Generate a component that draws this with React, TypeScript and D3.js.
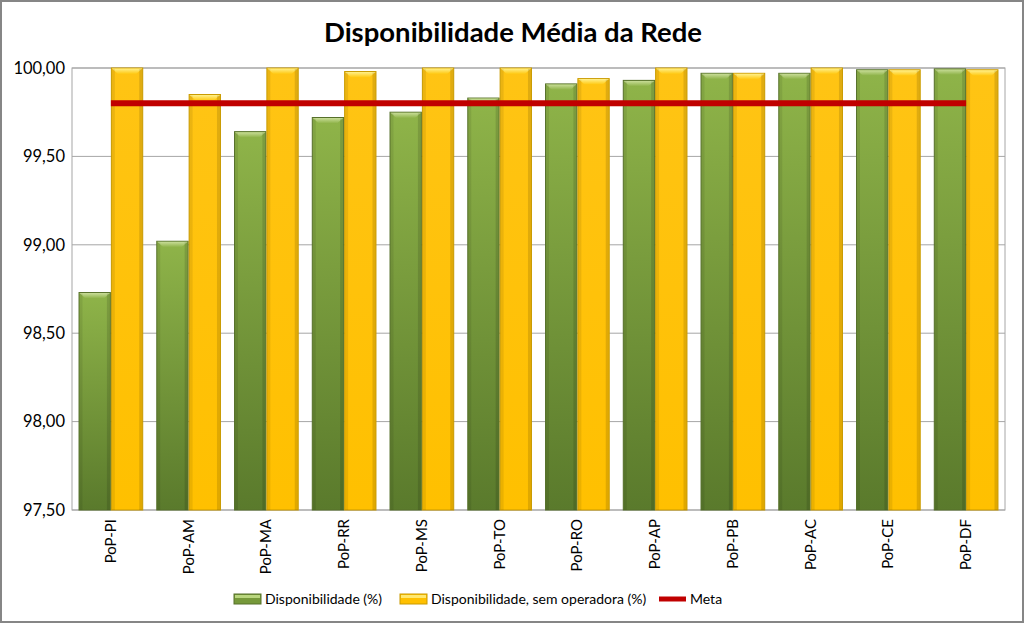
import * as d3 from "d3";
import { useEffect, useRef } from "react";

// categories and values
const categories = ["PoP-PI", "PoP-AM", "PoP-MA", "PoP-RR", "PoP-MS", "PoP-TO", "PoP-RO", "PoP-AP", "PoP-PB", "PoP-AC", "PoP-CE", "PoP-DF"];
const disponibilidade = [98.73, 99.02, 99.64, 99.72, 99.75, 99.83, 99.91, 99.93, 99.97, 99.97, 99.99, 99.995];
const semOperadora = [100.0, 99.85, 100.0, 99.98, 100.0, 100.0, 99.94, 100.0, 99.97, 100.0, 99.99, 99.99];
const meta = [99.8, 99.8, 99.8, 99.8, 99.8, 99.8, 99.8, 99.8, 99.8, 99.8, 99.8, 99.8];
const yTicks = [97.5, 98.0, 98.5, 99.0, 99.5, 100.0];
const seriesNames = ["Disponibilidade (%)", "Disponibilidade, sem operadora (%)", "Meta"];

const FONT = "Lato, 'Open Sans', sans-serif";

const App = () => {
  const ref = useRef<SVGSVGElement>(null);

  useEffect(() => {
    const W = 1024, H = 623;
    const margin = { top: 68, right: 19, bottom: 113, left: 72 };
    const width = W - margin.left - margin.right;
    const height = H - margin.top - margin.bottom;

    const svg = d3.select(ref.current);
    svg.selectAll("*").remove();

    const defs = svg.append("defs");
    const grad = (id: string, stops: [number, string][]) => {
      const g = defs.append("linearGradient").attr("id", id)
        .attr("x1", 0).attr("y1", 0).attr("x2", 0).attr("y2", 1);
      stops.forEach(([o, c]) => g.append("stop").attr("offset", o).attr("stop-color", c));
    };
    grad("greenBody", [[0, "#8fb449"], [1, "#5a7a2c"]]);
    grad("yellowBody", [[0, "#ffc414"], [1, "#ffc000"]]);
    grad("greenCap", [[0, "#c9dd98"], [1, "#8db247"]]);
    grad("yellowCap", [[0, "#fff08a"], [1, "#ffc810"]]);

    // background + outer border
    svg.append("rect").attr("x", 1).attr("y", 1).attr("width", W - 2).attr("height", H - 2)
      .attr("fill", "#fff").attr("stroke", "#868686").attr("stroke-width", 2);

    svg.append("text")
      .attr("x", 513).attr("y", 42)
      .attr("text-anchor", "middle")
      .attr("font-family", FONT).attr("font-weight", "bold").attr("font-size", 27.5)
      .attr("fill", "#000")
      .text("Disponibilidade Média da Rede");

    const g = svg.append("g").attr("transform", `translate(${margin.left},${margin.top})`);

    const x = d3.scaleBand().domain(categories).range([0, width]).paddingInner(0.168).paddingOuter(0.084);
    const x1 = d3.scaleBand().domain(["a", "b"]).range([0, x.bandwidth()]);
    const y = d3.scaleLinear().domain([97.5, 100]).range([height, 0]);

    // gridlines
    g.append("g").selectAll("line").data(yTicks).join("line")
      .attr("x1", 0).attr("x2", width)
      .attr("y1", (d) => y(d)).attr("y2", (d) => y(d))
      .attr("stroke", "#a6a6a6").attr("stroke-width", 1);
    g.append("rect").attr("x", 0).attr("y", 0).attr("width", width).attr("height", height)
      .attr("fill", "none").attr("stroke", "#a6a6a6");

    // y axis labels
    g.append("g").selectAll("text").data(yTicks).join("text")
      .attr("x", -7).attr("y", (d) => y(d)).attr("dy", "0.35em")
      .attr("text-anchor", "end")
      .attr("font-family", FONT).attr("font-size", 16.5).attr("fill", "#000")
      .text((d) => d3.format(".2f")(d).replace(".", ","));

    // x axis labels
    g.append("g").selectAll("text").data(categories).join("text")
      .attr("transform", (d) => `translate(${x(d)! + x.bandwidth() / 2 + 5},${height + 9}) rotate(-90)`)
      .attr("text-anchor", "end")
      .attr("font-family", FONT).attr("font-size", 15).attr("fill", "#000")
      .text((d) => d);

    const drawBars = (vals: number[], key: string, body: string, cap: string, edge: string) => {
      const bars = g.append("g").selectAll("g").data(vals).join("g")
        .attr("transform", (_d, i) => `translate(${x(categories[i])! + x1(key)!},0)`);
      const bw = x1.bandwidth();
      bars.append("rect")
        .attr("x", 0.5).attr("y", (d) => y(d))
        .attr("width", bw - 1).attr("height", (d) => height - y(d))
        .attr("fill", `url(#${body})`).attr("stroke", edge).attr("stroke-width", 1);
      // bevel cap
      bars.append("path")
        .attr("d", (d) => {
          const t = y(d), c = 6;
          return `M1,${t + 0.5}L${bw - 1},${t + 0.5}L${bw - 1 - c},${t + c}L${1 + c},${t + c}Z`;
        })
        .attr("fill", `url(#${cap})`);
      // side shading
      bars.append("rect")
        .attr("x", 1).attr("y", (d) => y(d) + 1).attr("width", 3).attr("height", (d) => height - y(d) - 1)
        .attr("fill", "#000").attr("opacity", 0.08);
      bars.append("rect")
        .attr("x", bw - 4).attr("y", (d) => y(d) + 1).attr("width", 3).attr("height", (d) => height - y(d) - 1)
        .attr("fill", "#000").attr("opacity", 0.12);
    };
    drawBars(disponibilidade, "a", "greenBody", "greenCap", "#56702a");
    drawBars(semOperadora, "b", "yellowBody", "yellowCap", "#c99a00");

    // meta line
    const line = d3.line<number>()
      .x((_d, i) => x(categories[i])! + x.bandwidth() / 2)
      .y((d) => y(d));
    g.append("path").datum(meta)
      .attr("d", line)
      .attr("fill", "none").attr("stroke", "#c00000").attr("stroke-width", 6);

    // legend
    const leg = svg.append("g").attr("transform", "translate(0,599)");
    const items = [
      { x: 234, name: seriesNames[0], kind: "green" },
      { x: 400, name: seriesNames[1], kind: "yellow" },
      { x: 659, name: seriesNames[2], kind: "line" },
    ];
    items.forEach((it) => {
      if (it.kind === "line") {
        leg.append("line").attr("x1", it.x).attr("x2", it.x + 27).attr("y1", 0).attr("y2", 0)
          .attr("stroke", "#c00000").attr("stroke-width", 5);
      } else {
        leg.append("rect").attr("x", it.x).attr("y", -5).attr("width", 27).attr("height", 10)
          .attr("fill", it.kind === "green" ? "#76993a" : "#ffc000")
          .attr("stroke", it.kind === "green" ? "#56702a" : "#c99a00");
        leg.append("rect").attr("x", it.x + 1).attr("y", -4).attr("width", 25).attr("height", 3)
          .attr("fill", it.kind === "green" ? "#b9d67e" : "#ffe870");
      }
      leg.append("text").attr("x", it.x + 31).attr("y", 0).attr("dy", "0.35em")
        .attr("font-family", FONT).attr("font-size", 14).attr("fill", "#000")
        .text(it.name);
    });
  }, []);

  return (
    <svg ref={ref} width={1024} height={623}
      style={{ position: "absolute", left: 0, top: 0, background: "#fff" }} />
  );
};

export default App;
